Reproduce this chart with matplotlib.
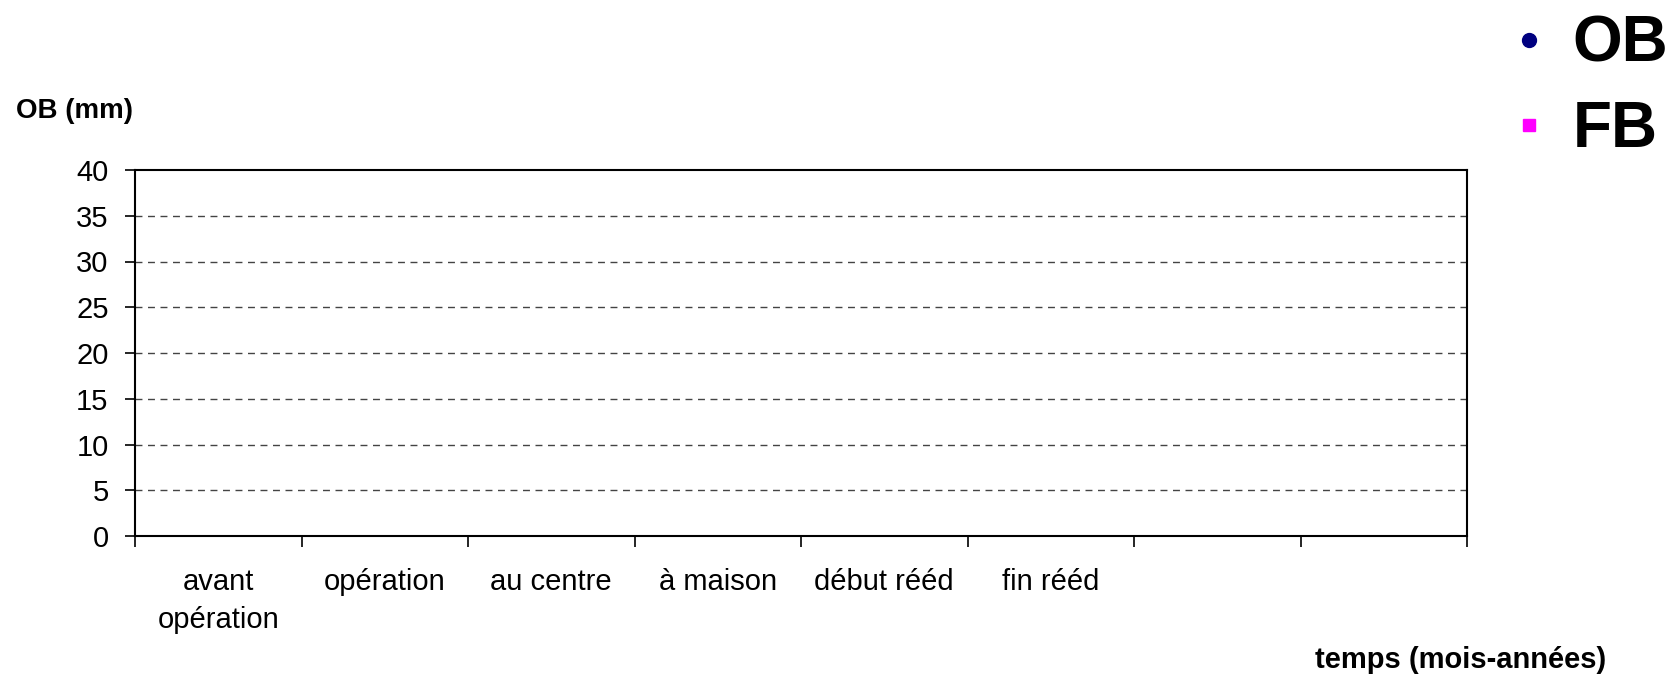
import numpy as np
import matplotlib.pyplot as plt
from matplotlib.lines import Line2D

plt.rcParams['font.family'] = ['Liberation Sans', 'DejaVu Sans']

# categories on the time axis (8 slots, last two empty)
categories = ["avant\nopération", "opération", "au centre", "à maison",
              "début rééd", "fin rééd", "", ""]
# no measurements filled in on the chart
ob_values = []
fb_values = []
yticks = [0, 5, 10, 15, 20, 25, 30, 35, 40]

fig = plt.figure(figsize=(16.71, 6.77), dpi=100)
ax = fig.add_axes([135 / 1671, 141 / 677, 1332 / 1671, 366 / 677])

n = len(categories)
ax.plot(np.arange(len(ob_values)) + 0.5, ob_values, "o", color="#000080", ms=10)
ax.plot(np.arange(len(fb_values)) + 0.5, fb_values, "s", color="#ff00ff", ms=9)

ax.set_xlim(0, n)
ax.set_ylim(0, 40)
ax.set_yticks(yticks)
ax.tick_params(axis="y", labelsize=21, length=7, width=1.2, pad=12)

# tick marks at slot borders, labels at slot centres
ax.set_xticks(np.arange(n + 1))
ax.set_xticklabels([])
ax.set_xticks(np.arange(n) + 0.5, minor=True)
ax.set_xticklabels(categories, minor=True, fontsize=21, linespacing=1.45)
ax.tick_params(axis="x", which="major", length=8, width=1.2)
ax.tick_params(axis="x", which="minor", length=0, pad=23)

for y in yticks[1:-1]:
    ax.axhline(y, color="#444444", lw=1, ls=(0, (5, 4)))
for s in ax.spines.values():
    s.set_linewidth(1.5)

fig.text(16 / 1671, 1 - 111 / 677, "OB (mm)", fontsize=20, fontweight="bold",
         ha="left", va="center")
fig.text(1461 / 1671, 1 - 660 / 677, "temps (mois-années)", fontsize=21,
         fontweight="bold", ha="center", va="center")

handles = [Line2D([], [], ls="none", marker="o", color="#000080", ms=10),
           Line2D([], [], ls="none", marker="s", color="#ff00ff", ms=9)]
fig.legend(handles, ["OB", "FB"], loc="upper left",
           bbox_to_anchor=(1510 / 1671, 1 - 15 / 677),
           frameon=False, prop={"size": 46, "weight": "bold"},
           borderpad=0, borderaxespad=0,
           handlelength=0.6, handletextpad=0.38, labelspacing=0.39)

fig.savefig("out.png", dpi=100)
